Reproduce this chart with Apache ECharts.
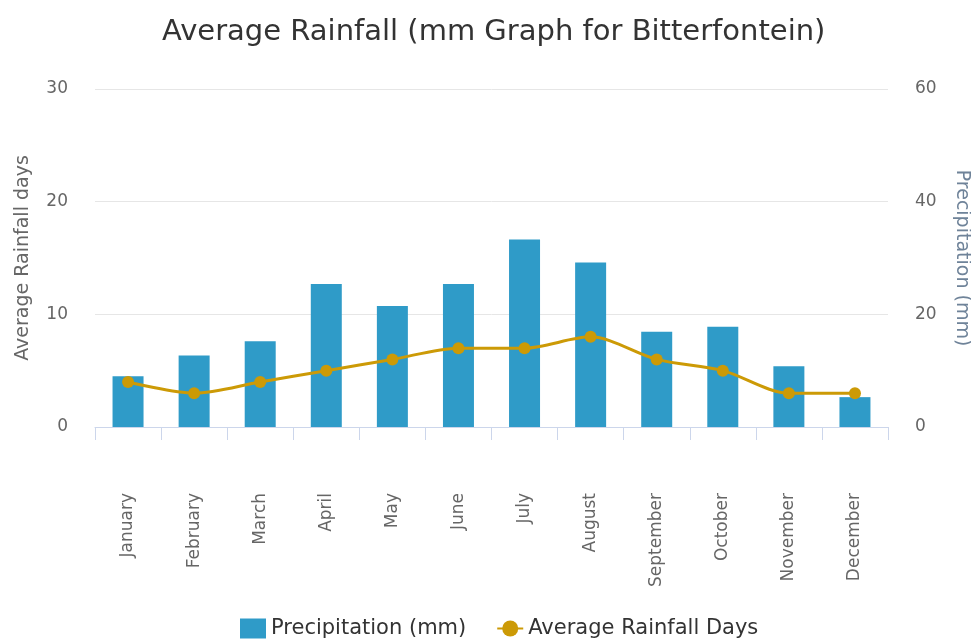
<!DOCTYPE html>
<html>
<head>
<meta charset="utf-8">
<style>
  html, body { margin: 0; padding: 0; background: #ffffff; }
  #chart { width: 971px; height: 644px; }
</style>
<script src="https://cdn.jsdelivr.net/npm/echarts@6/dist/echarts.min.js"></script>
</head>
<body>
<div id="chart"></div>
<script>
// Monthly climate figures for Bitterfontein
const months = ['January', 'February', 'March', 'April', 'May', 'June',
                'July', 'August', 'September', 'October', 'November', 'December'];
const precipitationMm = [9, 12.7, 15.2, 25.4, 21.5, 25.4, 33.3, 29.2, 16.9, 17.8, 10.8, 5.3];
const rainfallDays = [4, 3, 4, 5, 6, 7, 7, 8, 6, 5, 3, 3];
const daysTicks = [0, 30, 10];   // min, max, step
const mmTicks = [0, 60, 20];

const FONT = 'DejaVu Sans';
const chart = echarts.init(document.getElementById('chart'), null, { renderer: 'canvas' });

chart.setOption({
  animation: false,
  backgroundColor: '#ffffff',
  textStyle: { fontFamily: FONT },
  title: {
    text: 'Average Rainfall (mm Graph for Bitterfontein)',
    left: 157,
    top: 13,
    textStyle: { fontFamily: FONT, fontSize: 29, fontWeight: 'normal', color: '#333333' }
  },
  legend: {
    bottom: 0,
    left: 235,
    itemGap: 30,
    itemWidth: 26,
    itemHeight: 20,
    textStyle: { fontFamily: FONT, fontSize: 21, color: '#333333' },
    data: [
      { name: 'Precipitation (mm)', icon: 'rect' },
      { name: 'Average Rainfall Days' }
    ]
  },
  grid: { left: 95, right: 83, top: 89, bottom: 217, containLabel: false, outerBoundsMode: 'none' },
  xAxis: {
    type: 'category',
    data: months,
    axisLine: { lineStyle: { color: '#ccd6eb', width: 1 } },
    axisTick: { show: true, length: 13, lineStyle: { color: '#ccd6eb' } },
    axisLabel: { rotate: 90, margin: 66, fontFamily: FONT, fontSize: 17, color: '#666666' }
  },
  yAxis: [
    {
      type: 'value',
      position: 'left',
      min: daysTicks[0], max: daysTicks[1], interval: daysTicks[2],
      name: 'Average Rainfall days',
      nameLocation: 'middle',
      nameGap: 62,
      nameTextStyle: { fontFamily: FONT, fontSize: 19, color: '#666666' },
      axisLine: { show: false },
      axisTick: { show: false },
      axisLabel: { margin: 27, fontFamily: FONT, fontSize: 17, color: '#666666' },
      splitLine: { lineStyle: { color: '#e6e6e6', width: 1 } }
    },
    {
      type: 'value',
      position: 'right',
      min: mmTicks[0], max: mmTicks[1], interval: mmTicks[2],
      name: 'Precipitation (mm)',
      nameLocation: 'middle',
      nameRotate: -90,
      nameGap: 64,
      nameTextStyle: { fontFamily: FONT, fontSize: 19, color: '#6f8399' },
      axisLine: { show: false },
      axisTick: { show: false },
      axisLabel: { margin: 27, fontFamily: FONT, fontSize: 17, color: '#666666' },
      splitLine: { show: false }
    }
  ],
  series: [
    {
      name: 'Precipitation (mm)',
      type: 'bar',
      yAxisIndex: 1,
      data: precipitationMm,
      barWidth: 31,
      itemStyle: { color: '#2f9bc8' },
      z: 2
    },
    {
      name: 'Average Rainfall Days',
      type: 'line',
      yAxisIndex: 0,
      data: rainfallDays,
      smooth: 0.3,
      symbol: 'circle',
      symbolSize: 12,
      lineStyle: { color: '#cc9a06', width: 3 },
      itemStyle: { color: '#cc9a06' },
      z: 3
    }
  ]
});
</script>
</body>
</html>
